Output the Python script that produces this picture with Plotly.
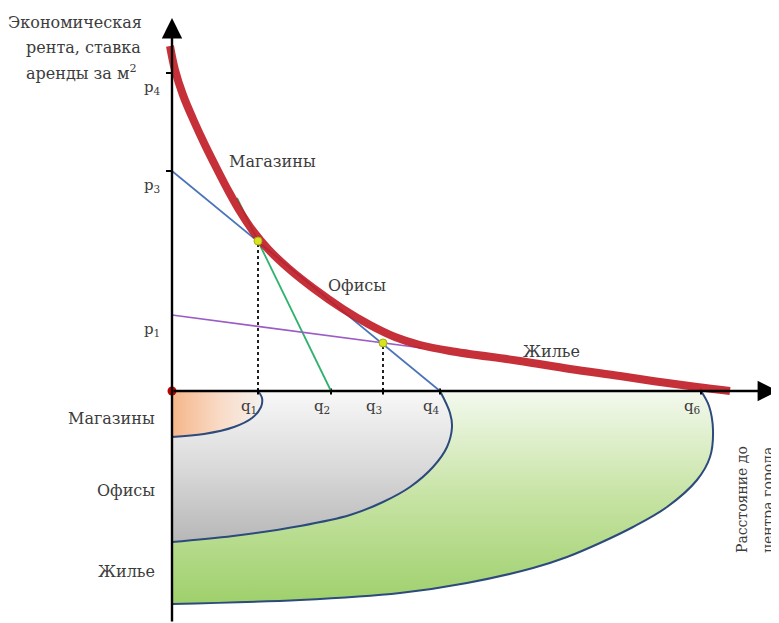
import plotly.graph_objects as go

# units: 10 px of the original drawing, origin at the axes crossing
p_labels = ["p<sub>4</sub>", "p<sub>3</sub>", "p<sub>1</sub>"]
p_values = [31.8, 22.0, 7.6]
q_labels = ["q<sub>1</sub>", "q<sub>2</sub>", "q<sub>3</sub>", "q<sub>4</sub>", "q<sub>6</sub>"]
q_values = [8.6, 15.9, 21.1, 26.8, 52.9]

# envelope of the bid-rent curves (red)
rent_x = [-0.2, 0.3, 1.1, 2.1, 3.3, 4.5, 5.7, 6.9, 8.1, 9.6, 11.6, 14.1, 17.1, 19.8,
          22.3, 24.8, 27.8, 34.8, 39.8, 44.8, 48.8, 52.5, 55.8]
rent_y = [34.5, 32.1, 29.6, 27.2, 24.6, 22.2, 19.9, 17.8, 16.0, 14.2, 12.3, 10.3, 8.2, 6.6,
          5.4, 4.6, 4.0, 3.0, 2.2, 1.5, 0.9, 0.4, 0.0]

# bid-rent lines of each land use
shops_x, shops_y = [6.5, 15.9], [19.3, 0.0]
offices_x, offices_y = [0.0, 26.8], [22.0, 0.0]
housing_x, housing_y = [0.0, 25.0], [7.6, 4.3]

# crossing points
cross_x = [8.6, 21.1]
cross_y = [15.0, 4.8]

# rings of land use below the axis
shops_zone_x = [8.6, 9.0, 8.9, 8.0, 6.2, 3.2, 0.0]
shops_zone_y = [0.0, -0.7, -1.6, -2.7, -3.6, -4.3, -4.6]
offices_zone_x = [26.8, 27.8, 28.0, 27.5, 26.1, 23.8, 21.1, 17.8, 12.8, 6.1, 0.0]
offices_zone_y = [0.0, -2.2, -3.6, -5.6, -7.6, -9.6, -11.1, -12.4, -13.5, -14.5, -15.1]
housing_zone_x = [52.9, 53.7, 54.1, 53.8, 52.5, 49.5, 46.1, 42.8, 39.5, 36.1, 29.5, 22.8, 12.8, 0.0]
housing_zone_y = [0.0, -1.5, -3.9, -6.6, -8.9, -11.6, -13.6, -15.2, -16.6, -17.7, -19.2, -20.2, -20.9, -21.3]

# the page body keeps an 8 px margin, so the figure starts 8 px in
X_RANGE = [-16.4, 60.7]
Y_RANGE = [-23.2, 38.3]
FONT = "DejaVu Serif"
TXT = "#3c3c3c"
EDGE = "#2c4a7c"

fig = go.Figure()


def add_zone(zx, zy, grad):
    # invisible base along the vertical axis, the ring is filled to it
    fig.add_trace(go.Scatter(x=[0, 0], y=[0, zy[-1]], mode="lines",
                             line=dict(width=0), hoverinfo="skip"))
    fig.add_trace(go.Scatter(x=zx, y=zy, mode="lines", fill="tonextx",
                             line=dict(color=EDGE, width=2, shape="spline", smoothing=1),
                             fillgradient=grad, hoverinfo="skip"))


add_zone(housing_zone_x, housing_zone_y,
         dict(type="vertical", colorscale=[[0, "#9fd06c"], [0.5, "#c6e3a3"], [1, "#f3f9ee"]]))
add_zone(offices_zone_x, offices_zone_y,
         dict(type="vertical", colorscale=[[0, "#b7b7b7"], [0.5, "#dadada"], [1, "#f8f8f8"]]))
add_zone(shops_zone_x, shops_zone_y,
         dict(type="horizontal", colorscale=[[0, "#f5b68a"], [0.55, "#f9dcc8"], [1, "#f4f0ee"]]))

# dotted guides
for qx, py in zip(cross_x, cross_y):
    fig.add_trace(go.Scatter(x=[qx, qx], y=[0, py], mode="lines",
                             line=dict(color="#222222", width=2, dash="dot"), hoverinfo="skip"))

# ticks
tx, ty = [], []
for q in q_values:
    tx += [q, q, None]
    ty += [0.25, -0.35, None]
for p in p_values[:2]:
    tx += [-0.6, 0, None]
    ty += [p, p, None]
fig.add_trace(go.Scatter(x=tx, y=ty, mode="lines", line=dict(color="black", width=2),
                         hoverinfo="skip"))

fig.add_trace(go.Scatter(x=offices_x, y=offices_y, mode="lines",
                         line=dict(color="#4a74ba", width=1.7), hoverinfo="skip"))
fig.add_trace(go.Scatter(x=shops_x, y=shops_y, mode="lines",
                         line=dict(color="#2eb36c", width=1.8), hoverinfo="skip"))
fig.add_trace(go.Scatter(x=housing_x, y=housing_y, mode="lines",
                         line=dict(color="#9b5cc6", width=1.6), hoverinfo="skip"))
fig.add_trace(go.Scatter(x=rent_x, y=rent_y, mode="lines",
                         line=dict(color="rgba(192,30,40,0.92)", width=8, shape="spline", smoothing=1),
                         hoverinfo="skip"))
fig.add_trace(go.Scatter(x=cross_x, y=cross_y, mode="markers",
                         marker=dict(color="#d8e21e", size=8, line=dict(color="#a3b010", width=1)),
                         hoverinfo="skip"))
fig.add_trace(go.Scatter(x=[0], y=[0], mode="markers",
                         marker=dict(color="#c00000", size=9), hoverinfo="skip"))

# axes with arrows
arrow = dict(showarrow=True, arrowhead=2, arrowsize=1.7, arrowwidth=2.4, arrowcolor="black",
             axref="x", ayref="y", xref="x", yref="y", text="", standoff=0)
fig.add_annotation(x=0, y=37.3, ax=0, ay=Y_RANGE[0], **arrow)
fig.add_annotation(x=60.6, y=0, ax=0, ay=0, **arrow)


def label(x, y, text, size=16, xanchor="center", angle=0):
    fig.add_annotation(x=x, y=y, text=text, showarrow=False, xanchor=xanchor, yanchor="middle",
                       textangle=angle, font=dict(family=FONT, size=size, color=TXT))


label(-9.7, 36.9, "Экономическая")
label(-8.9, 34.4, "рента, ставка")
label(-9.1, 31.9, "аренды за м<sup>2</sup>")

for p, t in zip(p_values, p_labels):
    label(-2.0, p - 1.4, t, size=15)
for q, t in zip(q_values, q_labels):
    label(q - 0.9, -1.5, t, size=15)

label(10.0, 23.0, "Магазины")
label(18.5, 10.6, "Офисы")
label(37.9, 4.0, "Жилье")

label(-1.5, -2.7, "Магазины", xanchor="right")
label(-1.5, -9.9, "Офисы", xanchor="right")
label(-1.5, -18.0, "Жилье", xanchor="right")

label(59.9, -2.9, "Q", size=19, xanchor="left")
label(57.0, -10.9, "Расстояние до", size=14, angle=-90)
label(59.6, -10.9, "центра города", size=14, angle=-90)

fig.update_xaxes(range=X_RANGE, visible=False, fixedrange=True)
fig.update_yaxes(range=Y_RANGE, visible=False, fixedrange=True)
fig.update_layout(width=771, height=615, autosize=False, showlegend=False,
                  margin=dict(l=0, r=0, t=0, b=0),
                  plot_bgcolor="white", paper_bgcolor="white")

fig.write_html("out.html")
